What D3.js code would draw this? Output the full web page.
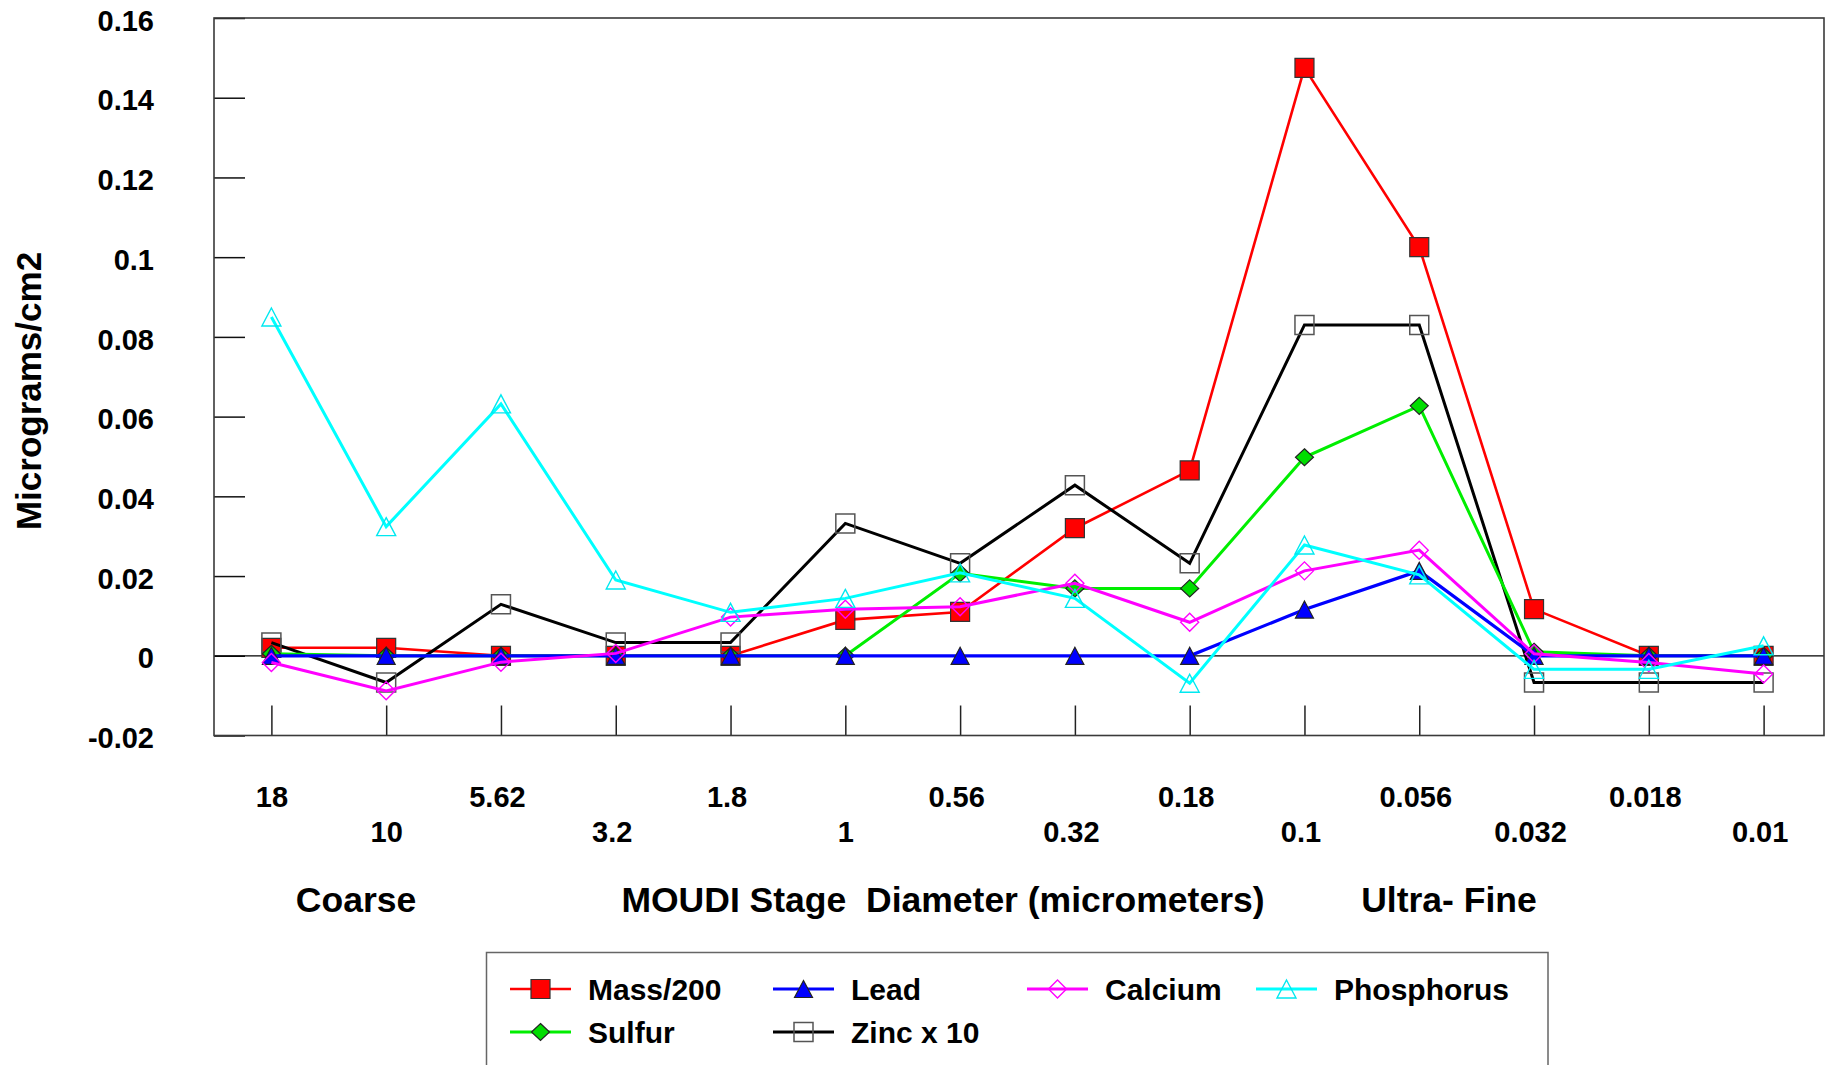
<!DOCTYPE html>
<html><head><meta charset="utf-8">
<script src="https://cdn.jsdelivr.net/npm/d3@7"></script>
<style>
html,body{margin:0;padding:0;background:#fff;}
text{font-family:"Liberation Sans",Arial,sans-serif;font-weight:bold;fill:#000;}
</style></head>
<body><svg id="c" width="1831" height="1065"></svg>
<script>
const categories = ["18","10","5.62","3.2","1.8","1","0.56","0.32","0.18","0.1","0.056","0.032","0.018","0.01"];
const yTicks = [-0.02,0,0.02,0.04,0.06,0.08,0.1,0.12,0.14,0.16];
const yTickLabels = ["-0.02","0","0.02","0.04","0.06","0.08","0.1","0.12","0.14","0.16"];
const mass200    = [0.002,0.002,0,0,0,0.009,0.011,0.032,0.0465,0.1475,0.1025,0.0117,0,0];
const zincX10    = [0.0033,-0.0067,0.0129,0.0033,0.0033,0.0332,0.0232,0.0428,0.0232,0.083,0.083,-0.0067,-0.0067,-0.0067];
const sulfur     = [0.0005,0,0,0,0,0,0.0207,0.0169,0.0169,0.0498,0.0627,0.001,0,0];
const lead       = [0,0,0,0,0,0,0,0,0,0.0116,0.0213,0,0,0];
const calcium    = [-0.0017,-0.0088,-0.0016,0.0006,0.0097,0.0117,0.0123,0.0182,0.0084,0.0213,0.0265,0.0005,-0.0017,-0.0046];
const phosphorus = [0.085,0.0324,0.0632,0.019,0.0109,0.0144,0.0208,0.0144,-0.0069,0.0278,0.0203,-0.0034,-0.0034,0.0025];
const seriesNames = ["Mass/200","Zinc x 10","Sulfur","Lead","Calcium","Phosphorus"];
const axisTitle = "Micrograms/cm2";
const xTitles = ["Coarse","MOUDI Stage  Diameter (micrometers)","Ultra- Fine"];

const svg = d3.select("#c");
const L=214, R=1824, T=18, B=735.5;
const x = d3.scalePoint().domain(categories).range([L,R-3]).padding(0.5);
const y = d3.scaleLinear().domain([-0.02,0.16]).range([B,T]);

function sq(s){return `M${-s/2},${-s/2}H${s/2}V${s/2}H${-s/2}Z`;}
function tri(w,h){return `M0,${-h/2}L${w/2},${h/2}L${-w/2},${h/2}Z`;}
function dia(w,h){return `M0,${-h/2}L${w/2},0L0,${h/2}L${-w/2},0Z`;}

const styles = {
 "Mass/200":  {data:mass200, color:"#ff0000", lw:2.6, path:sq(19), fill:"#ff0000", stroke:"#333", sw:1.2},
 "Zinc x 10": {data:zincX10, color:"#000000", lw:3, path:sq(19), fill:"none", stroke:"#555", sw:1.5},
 "Sulfur":    {data:sulfur, color:"#00ee00", lw:3, path:dia(18,17), fill:"#00dd00", stroke:"#222", sw:1.2},
 "Lead":      {data:lead, color:"#0000ff", lw:3.2, path:tri(18,17), fill:"#0000ff", stroke:"#222", sw:1.2},
 "Calcium":   {data:calcium, color:"#ff00ff", lw:3, path:dia(18,18), fill:"none", stroke:"#ff00ff", sw:1.4},
 "Phosphorus":{data:phosphorus, color:"#00ffff", lw:3, path:tri(19,18), fill:"none", stroke:"#00e8f0", sw:1.4}
};

const yAxis = d3.axisLeft(y).tickValues(yTicks).tickSize(-31).tickPadding(60)
  .tickFormat((d,i)=>yTickLabels[i]);
const gy = svg.append("g").attr("transform",`translate(${L},0)`).call(yAxis);
gy.select(".domain").remove();
gy.selectAll(".tick line").attr("stroke","#111").attr("stroke-width",1.5);
gy.selectAll(".tick text").style("font-size","29px").attr("dy","0.42em");

const xAxis = d3.axisBottom(x).tickSize(-30).tickPadding(0);
const gx = svg.append("g").attr("transform",`translate(0,${B})`).call(xAxis);
gx.select(".domain").remove();
gx.selectAll(".tick line").attr("stroke","#222").attr("stroke-width",1.5);
gx.selectAll(".tick text").style("font-size","29px").attr("dy",null)
  .attr("dx",d=> d.indexOf(".")>=0 ? -4 : 0)
  .attr("y",(d,i)=> i%2===0 ? 71.5 : 106.5);

svg.append("line").attr("x1",L).attr("x2",R).attr("y1",y(0)).attr("y2",y(0))
  .attr("stroke","#000").attr("stroke-width",1.2);

svg.append("rect").attr("x",L).attr("y",T).attr("width",R-L).attr("height",B-T)
  .attr("fill","none").attr("stroke","#3a3a3a").attr("stroke-width",1.6);

const line = d3.line().x((d,i)=>x(categories[i])).y(d=>y(d));
seriesNames.forEach(name=>{
  const s = styles[name];
  const g = svg.append("g");
  g.append("path").datum(s.data).attr("d",line).attr("fill","none")
    .attr("stroke",s.color).attr("stroke-width",s.lw).attr("stroke-linejoin","miter");
  g.selectAll("path.m").data(s.data).enter().append("path").attr("class","m")
    .attr("d",s.path).attr("transform",(d,i)=>`translate(${x(categories[i])},${y(d)})`)
    .attr("fill",s.fill).attr("stroke",s.stroke).attr("stroke-width",s.sw);
});

svg.append("text").attr("transform","translate(41,391) rotate(-90)").attr("text-anchor","middle")
  .style("font-size","35px").text(axisTitle);
const titleX = [356, 943, 1449];
xTitles.forEach((t,i)=>{
  svg.append("text").attr("x",titleX[i]).attr("y",911.5).attr("text-anchor","middle")
    .style("font-size","35.5px").attr("xml:space","preserve").text(t);
});

svg.append("rect").attr("x",486.5).attr("y",952.5).attr("width",1061.5).attr("height",140)
  .attr("fill","#fff").attr("stroke","#666").attr("stroke-width",1.5);
const legendOrder = ["Mass/200","Lead","Calcium","Phosphorus","Sulfur","Zinc x 10"];
const colX = [510, 773, 1027, 1256];
const rowY = [989, 1032];
legendOrder.forEach((name,k)=>{
  const s = styles[name];
  const cx = colX[k%4], cy = rowY[Math.floor(k/4)];
  const g = svg.append("g").attr("transform",`translate(${cx},${cy})`);
  g.append("line").attr("x1",0).attr("x2",61).attr("y1",0).attr("y2",0)
    .attr("stroke",s.color).attr("stroke-width",s.lw);
  g.append("path").attr("d",s.path).attr("transform","translate(30.5,0)")
    .attr("fill",s.fill).attr("stroke",s.stroke).attr("stroke-width",s.sw);
  g.append("text").attr("x",78).attr("y",11).style("font-size","30px").text(name);
});
</script></body></html>
